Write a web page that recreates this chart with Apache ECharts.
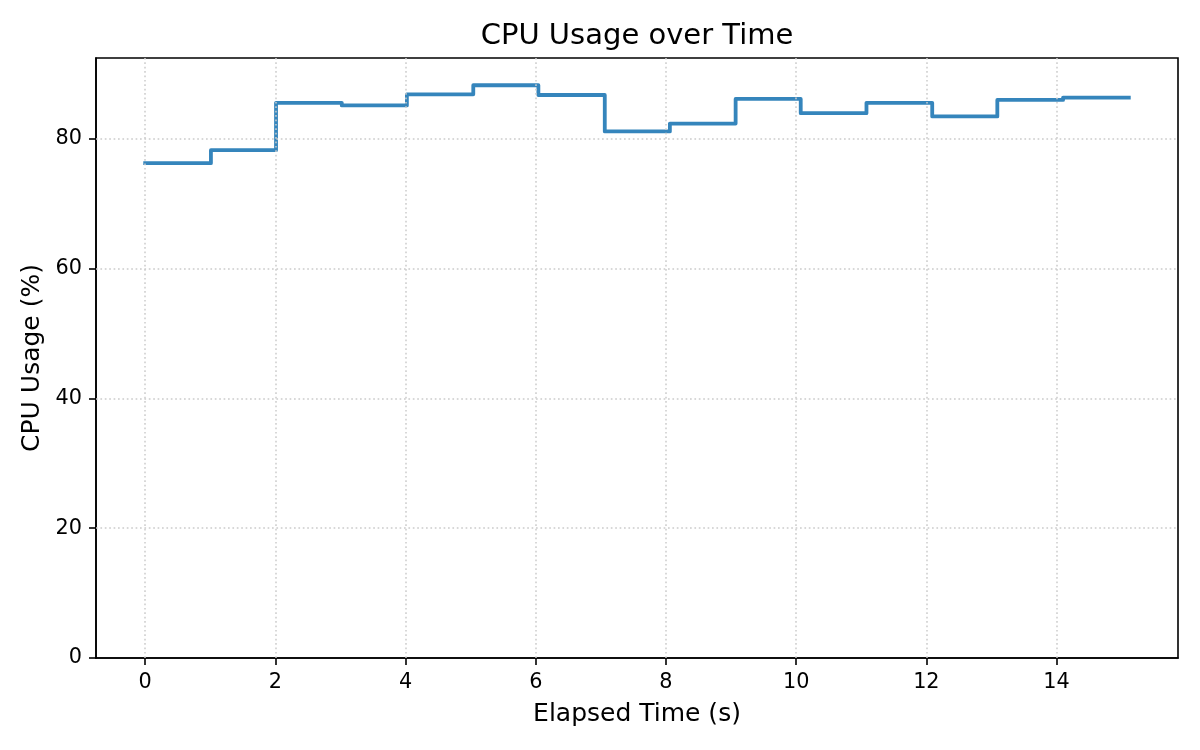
<!DOCTYPE html>
<html>
<head>
<meta charset="utf-8">
<script src="https://cdn.jsdelivr.net/npm/echarts@6/dist/echarts.min.js"></script>
<style>
html,body{margin:0;padding:0;background:#fff;}
#chart{width:1200px;height:750px;}
</style>
</head>
<body>
<div id="chart"></div>
<script>
// Data
const elapsedTime = [0, 1.01, 2.01, 3.02, 4.02, 5.04, 6.04, 7.06, 8.06, 9.07, 10.07, 11.08, 12.09, 13.09, 14.10, 15.11];
const cpuUsage    = [76.2, 78.2, 85.5, 85.1, 86.8, 88.2, 86.7, 81.1, 82.3, 86.1, 83.9, 85.5, 83.4, 85.95, 86.3, 86.3];
const xTicks = [0, 2, 4, 6, 8, 10, 12, 14];
const yTicks = [0, 20, 40, 60, 80];

const FONT = 'DejaVu Sans';
const xMin = -0.7555, xMax = 15.8655;
const yMin = 0, yMax = 92.4;

// steps-post table built from the data arrays
const stepData = [];
elapsedTime.forEach((t, i) => {
  stepData.push([t, cpuUsage[i]]);
  if (i < elapsedTime.length - 1) stepData.push([elapsedTime[i + 1], cpuUsage[i]]);
});

const chart = echarts.init(document.getElementById('chart'), null, {renderer: 'canvas'});

const gridLines = [];
xTicks.forEach(v => gridLines.push({xAxis: v}));
yTicks.filter(v => v > yMin).forEach(v => gridLines.push({yAxis: v}));

chart.setOption({
  animation: false,
  backgroundColor: '#ffffff',
  title: {
    text: 'CPU Usage over Time',
    left: 637,
    top: 22,
    padding: 0,
    textAlign: 'center',
    textStyle: {fontFamily: FONT, fontSize: 29, fontWeight: 'normal', color: '#000'}
  },
  grid: {
    left: 96, right: 22, top: 58, bottom: 92,
    show: true, borderColor: '#000', borderWidth: 1.6, backgroundColor: 'transparent'
  },
  xAxis: {
    type: 'value',
    min: xMin, max: xMax,
    name: 'Elapsed Time (s)',
    nameLocation: 'middle',
    nameGap: 44,
    nameTextStyle: {fontFamily: FONT, fontSize: 25, color: '#000'},
    axisLine: {show: true, onZero: false, lineStyle: {color: '#000', width: 1.6}},
    axisTick: {show: true, customValues: xTicks, length: 7, lineStyle: {color: '#000', width: 1.6}},
    axisLabel: {show: true, customValues: xTicks, margin: 14, fontFamily: FONT, fontSize: 20.8, color: '#000'},
    splitLine: {show: false}
  },
  yAxis: {
    type: 'value',
    min: yMin, max: yMax,
    name: 'CPU Usage (%)',
    nameLocation: 'middle',
    nameGap: 50,
    nameTextStyle: {fontFamily: FONT, fontSize: 25, color: '#000'},
    axisLine: {show: true, onZero: false, lineStyle: {color: '#000', width: 1.6}},
    axisTick: {show: true, customValues: yTicks, length: 7, lineStyle: {color: '#000', width: 1.6}},
    axisLabel: {show: true, customValues: yTicks, margin: 14, fontFamily: FONT, fontSize: 20.8, color: '#000'},
    splitLine: {show: false}
  },
  series: [
    {
      type: 'line',
      data: [],
      z: 1,
      silent: true,
      markLine: {
        silent: true,
        symbol: ['none', 'none'],
        label: {show: false},
        lineStyle: {color: '#cccccc', width: 1.5, type: [1.7, 2.7]},
        emphasis: {disabled: true},
        data: gridLines
      }
    },
    {
      type: 'line',
      z: 3,
      showSymbol: false,
      symbol: 'none',
      data: stepData,
      lineStyle: {color: '#3585bc', width: 3.8, cap: 'square', join: 'round'}
    }
  ]
});
</script>
</body>
</html>
